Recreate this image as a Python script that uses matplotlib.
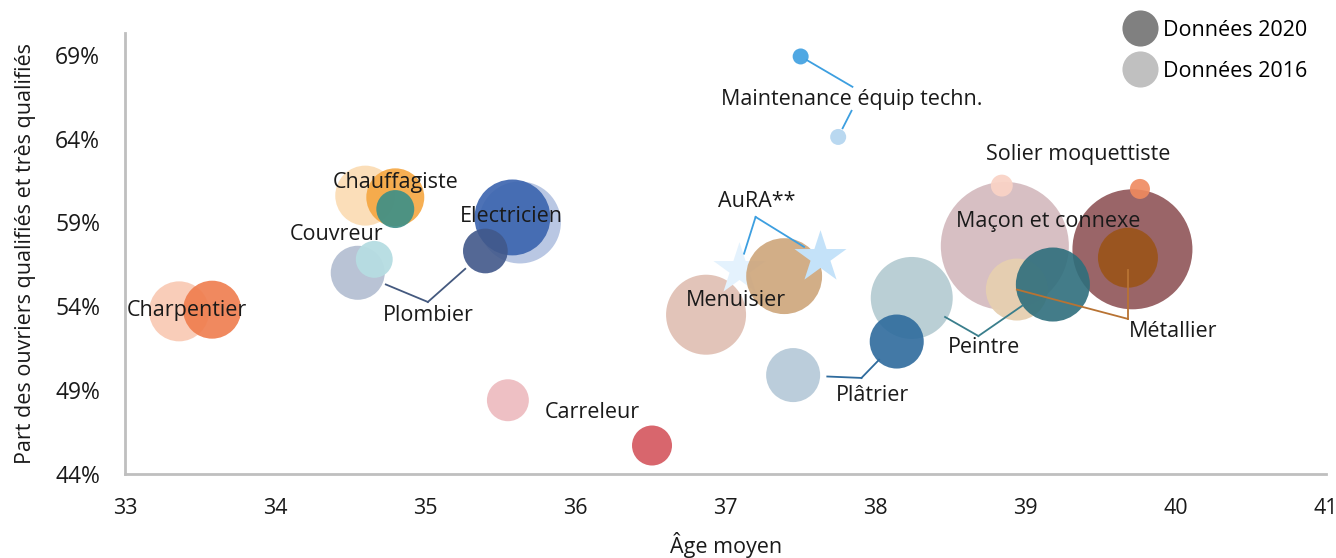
"""
Bulle : âge moyen et part des ouvriers qualifiés par métier du BTP,
comparaison 2016 / 2020.
"""

import matplotlib.pyplot as plt
from matplotlib.lines import Line2D

plt.rcParams["font.family"] = ["Open Sans", "DejaVu Sans"]

# ---------------------------------------------------------------------
# Données
# ---------------------------------------------------------------------

METIERS = [
    "Maçon et connexe", "Peintre", "Electricien", "Menuisier", "Métallier",
    "Charpentier", "Chauffagiste", "Plâtrier", "Plombier", "Carreleur",
    "Couvreur", "Solier moquettiste", "Maintenance équip techn.",
]

AGE_2016 = [38.86, 38.24, 35.63, 36.87, 38.94, 33.36, 34.60, 37.45, 34.55,
            35.55, 34.66, 38.84, 37.75]
PART_2016 = [57.6, 54.5, 59.0, 53.5, 55.0, 53.7, 60.6, 49.9, 56.0,
             48.4, 56.8, 61.2, 64.1]
EFFECTIF_2016 = [41000, 16800, 16800, 16000, 9600, 9000, 9000, 7300, 7300,
                 4400, 3400, 1200, 640]

AGE_2020 = [39.71, 39.18, 35.58, 37.39, 39.68, 33.58, 34.80, 38.14, 35.40,
            36.51, 34.80, 39.76, 37.50]
PART_2020 = [57.4, 55.3, 59.3, 55.8, 56.9, 53.8, 60.5, 51.9, 57.3,
             45.7, 59.8, 61.0, 68.9]
EFFECTIF_2020 = [36000, 13700, 14400, 14400, 9000, 8400, 8400, 7300, 5000,
                 4000, 3600, 1000, 640]

COULEURS_2016 = ["#D5BCC0", "#B7CDD3", "#B5C4E2", "#E1C1B5", "#E6CFB0",
                 "#F9CBB6", "#FBDDB5", "#B8CBD9", "#B5C0D3", "#EEBDC1",
                 "#B6DDE2", "#F9D3C6", "#B6D6F0"]
COULEURS_2020 = ["#8F5457", "#2E6E7C", "#3A63AE", "#CDA57A", "#9A5419",
                 "#EF7C4D", "#F5A640", "#2E6B9D", "#41588A", "#D4555D",
                 "#3B8F88", "#EF8A5F", "#3D9FE0"]

# Moyenne régionale
AURA_AGE = [37.09, 37.63]
AURA_PART = [56.2, 56.95]
AURA_COULEURS = ["#E4F2FD", "#C4E2F9"]

Y_TICKS = [44, 49, 54, 59, 64, 69]
X_TICKS = list(range(33, 42))

# ---------------------------------------------------------------------
# Étiquettes et traits de rappel
# ---------------------------------------------------------------------

ETIQUETTES = {
    "Charpentier": (33.41, 53.73),
    "Chauffagiste": (34.80, 61.36),
    "Couvreur": (34.41, 58.26),
    "Electricien": (35.57, 59.33),
    "Plombier": (35.02, 53.43),
    "Maintenance équip techn.": (37.84, 66.31),
    "Menuisier": (37.07, 54.32),
    "Carreleur": (36.11, 47.64),
    "Plâtrier": (37.98, 48.71),
    "Peintre": (38.72, 51.52),
    "Maçon et connexe": (39.15, 59.04),
    "Solier moquettiste": (39.35, 63.03),
    "Métallier": (39.98, 52.47),
}

# (x, y du coude, fraction du chemin vers la bulle) pour 2016 puis 2020
RAPPELS = {
    "Plombier": ((35.017, 54.26, 0.6), (35.017, 54.26, 0.65), "#44597F"),
    "Maintenance équip techn.": ((37.839, 65.66, 0.67), (37.845, 67.09, 0.88), "#3D9FE0"),
    "Plâtrier": ((37.905, 49.73, 0.5), (37.905, 49.73, 0.5), "#2E6B9D"),
    "Peintre": ((38.684, 52.23, 0.5), (38.684, 52.23, 0.6), "#3A7E8C"),
    "Métallier": ((39.68, 53.25, 1.0), (39.68, 53.25, 0.8), "#B87333"),
}
RAPPEL_AURA = ((37.20, 59.33, 0.7), (37.20, 59.33, 0.75), "#3D9FE0")

TAILLE = 0.20736  # points² par unité d'effectif
POLICE = 15.5


def trait(ax, coude, cible, couleur):
    x0, y0, f = coude
    x1 = x0 + f * (cible[0] - x0)
    y1 = y0 + f * (cible[1] - y0)
    ax.plot([x0, x1], [y0, y1], color=couleur, lw=1.3, zorder=5)


def main() -> None:
    fig = plt.figure(figsize=(13.36, 5.58), dpi=100)
    ax = fig.add_axes([0.0936, 0.1505, 0.8990, 0.7904])

    ax.scatter(AGE_2016, PART_2016, s=[e * TAILLE for e in EFFECTIF_2016],
               c=COULEURS_2016, alpha=0.95, linewidths=0, zorder=2)
    ax.scatter(AURA_AGE[0], AURA_PART[0], s=1550, marker="*",
               c=AURA_COULEURS[0], linewidths=0, zorder=2)
    ax.scatter(AGE_2020, PART_2020, s=[e * TAILLE for e in EFFECTIF_2020],
               c=COULEURS_2020, alpha=0.9, linewidths=0, zorder=3)
    ax.scatter(AURA_AGE[1], AURA_PART[1], s=1550, marker="*",
               c=AURA_COULEURS[1], linewidths=0, zorder=3)

    for nom, (c16, c20, couleur) in RAPPELS.items():
        i = METIERS.index(nom)
        trait(ax, c16, (AGE_2016[i], PART_2016[i]), couleur)
        trait(ax, c20, (AGE_2020[i], PART_2020[i]), couleur)
    c16, c20, couleur = RAPPEL_AURA
    trait(ax, c16, (AURA_AGE[0], AURA_PART[0]), couleur)
    trait(ax, c20, (AURA_AGE[1], AURA_PART[1]), couleur)

    for nom, (x, y) in ETIQUETTES.items():
        ax.text(x, y, nom, ha="center", va="center", fontsize=POLICE,
                color="#1A1A1A", zorder=6)
    ax.text(37.21, 60.23, "AuRA**", ha="center", va="center",
            fontsize=POLICE, color="#1A1A1A", zorder=6)

    ax.set_xlim(33, 41)
    ax.set_ylim(44, 70.3)
    ax.set_xticks(X_TICKS)
    ax.set_yticks(Y_TICKS)
    ax.set_yticklabels([f"{v}%" for v in Y_TICKS])
    ax.tick_params(length=0, colors="#1A1A1A")
    ax.tick_params(axis="x", pad=17.5, labelsize=POLICE)
    ax.tick_params(axis="y", pad=18, labelsize=16.5)
    for cote in ("top", "right"):
        ax.spines[cote].set_visible(False)
    for cote in ("left", "bottom"):
        ax.spines[cote].set_color("#BFBFBF")
        ax.spines[cote].set_linewidth(2)

    ax.set_xlabel("Âge moyen", fontsize=POLICE, color="#1A1A1A", labelpad=9)
    ax.set_ylabel("Part des ouvriers qualifiés et très qualifiés",
                  fontsize=POLICE, color="#1A1A1A", labelpad=14)

    poignees = [
        Line2D([], [], marker="o", ls="", markersize=26, color="#808080",
               markeredgewidth=0, label="Données 2020"),
        Line2D([], [], marker="o", ls="", markersize=26, color="#C0C0C0",
               markeredgewidth=0, label="Données 2016"),
    ]
    fig.legend(handles=poignees, loc="upper right",
               bbox_to_anchor=(0.9917, 0.995), frameon=False,
               fontsize=POLICE, handletextpad=0.1, labelspacing=0.93,
               borderpad=0.3)

    fig.savefig("out.png", dpi=100)


if __name__ == "__main__":
    main()
